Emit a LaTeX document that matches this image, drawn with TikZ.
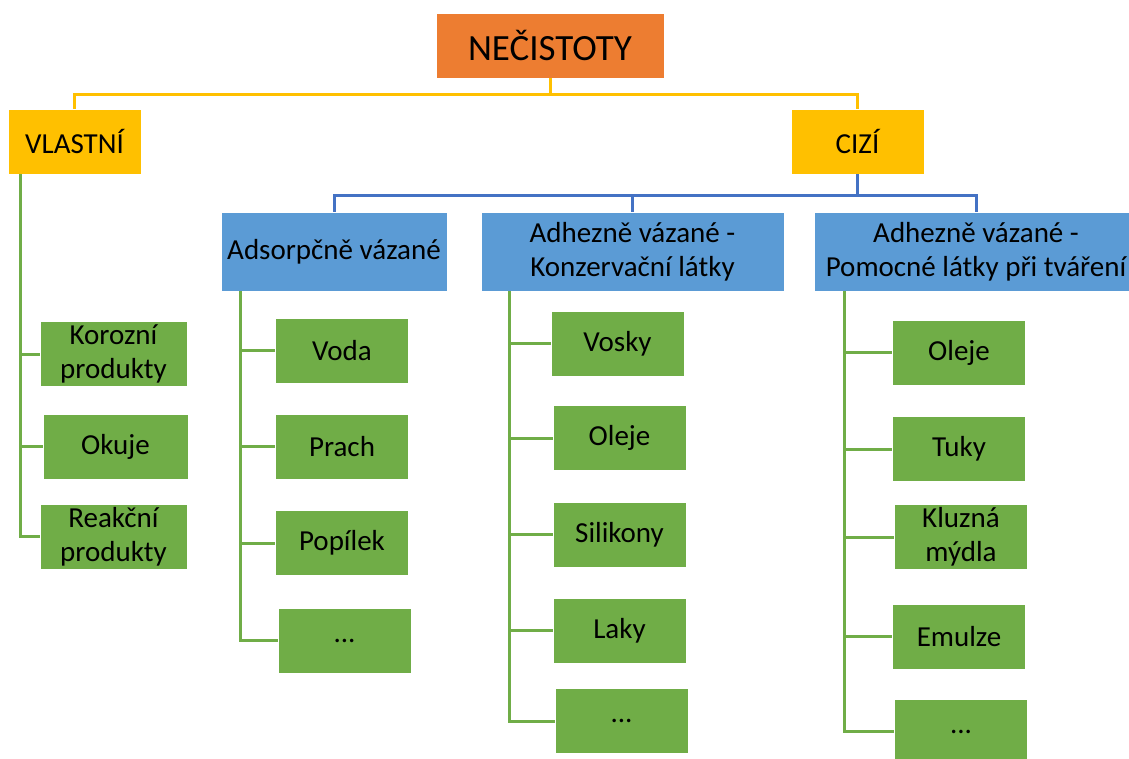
\documentclass[tikz,border=0pt]{standalone}
\usepackage{fontspec}
\setmainfont{Carlito}
\usetikzlibrary{calc}
\definecolor{necorange}{HTML}{ED7D31}
\definecolor{lvlyellow}{HTML}{FFC000}
\definecolor{grpblue}{HTML}{5B9BD5}
\definecolor{lineblue}{HTML}{4472C4}
\definecolor{itemgreen}{HTML}{70AD47}
\tikzset{
  box/.style={draw=white, line width=0.8pt, inner sep=1pt, align=center,
    minimum height=65pt, font=\fontsize{29}{34}\selectfont},
  rootbox/.style={box, fill=necorange, minimum width=228pt,
    font=\fontsize{37}{44}\selectfont},
  lvlbox/.style={box, fill=lvlyellow, minimum width=133pt},
  grpbox/.style={box, fill=grpblue, minimum height=79pt},
  itembox/.style={box, fill=itemgreen, minimum width=133pt},
  yline/.style={draw=lvlyellow, line width=3pt},
  bline/.style={draw=lineblue, line width=3pt},
  gline/.style={draw=itemgreen, line width=3pt}
}
\begin{document}
\begin{tikzpicture}[x=1pt, y=-1pt]
      \useasboundingbox (0,0) rectangle (1129,758);
      % top levels
      \node[rootbox] (nec) at (550,45.5) {NEČISTOTY};
      \node[lvlbox] (vlastni) at (74.5,141.5) {VLASTNÍ};
      \node[lvlbox] (cizi) at (857.5,141.5) {CIZÍ};
      \node[grpbox, minimum width=226pt] (ads) at (334,251.5) {Adsorpčně vázané};
      \node[grpbox, minimum width=303pt] (kons) at (632.5,251.5) {Adhezně vázané -\\Konzervační látky};
      \node[grpbox, minimum width=324pt] (pom) at (976,251.5) {Adhezně vázané -\\Pomocné látky při tváření};
      % vlastni
      \node[itembox, minimum width=147pt] (kor) at (113.5,354) {Korozní\\produkty};
      \node[itembox, minimum width=145pt] (oku) at (115.5,446.5) {Okuje};
      \node[itembox, minimum width=147pt] (rea) at (113.5,536.5) {Reakční\\produkty};
      % adsorpcne
      \node[itembox] (voda) at (342,350.5) {Voda};
      \node[itembox] (prach) at (342,446.5) {Prach};
      \node[itembox] (popilek) at (342,543) {Popílek};
      \node[itembox] (dotsA) at (344.5,640.5) {...};
      % konzervacni
      \node[itembox] (vosky) at (617.5,343.5) {Vosky};
      \node[itembox] (olejeK) at (619.5,438) {Oleje};
      \node[itembox] (silikony) at (619.5,534.5) {Silikony};
      \node[itembox] (laky) at (619.5,630.5) {Laky};
      \node[itembox] (dotsK) at (621.5,721) {...};
      % pomocne
      \node[itembox] (olejeP) at (959,352.5) {Oleje};
      \node[itembox] (tuky) at (959,449) {Tuky};
      \node[itembox] (kluzna) at (961,537) {Kluzná\\mýdla};
      \node[itembox] (emulze) at (959,636.5) {Emulze};
      \node[itembox] (dotsP) at (961,731.5) {...};
      % connectors
      \begin{scope}[yline]
        \draw (nec.south) -- ++(0,16) -| (vlastni.north);
        \draw (nec.south) -- ++(0,16) -| (cizi.north);
      \end{scope}
      \begin{scope}[bline]
        \draw (cizi.south) -- ++(0,21) -| (ads.north);
        \draw (cizi.south) -- ++(0,21) -| (kons.north);
        \draw (cizi.south) -- ++(0,21) -| (pom.north);
      \end{scope}
      \coordinate (tV) at ($(vlastni.south west)+(13,0)$);
      \coordinate (tA) at ($(ads.south west)+(20,0)$);
      \coordinate (tK) at ($(kons.south west)+(29,0)$);
      \coordinate (tP) at ($(pom.south west)+(31,0)$);
      \begin{scope}[gline]
        \draw (tV) |- (kor.west);
        \draw (tV) |- (oku.west);
        \draw (tV) |- (rea.west);
        \draw (tA) |- (voda.west);
        \draw (tA) |- (prach.west);
        \draw (tA) |- (popilek.west);
        \draw (tA) |- (dotsA.west);
        \draw (tK) |- (vosky.west);
        \draw (tK) |- (olejeK.west);
        \draw (tK) |- (silikony.west);
        \draw (tK) |- (laky.west);
        \draw (tK) |- (dotsK.west);
        \draw (tP) |- (olejeP.west);
        \draw (tP) |- (tuky.west);
        \draw (tP) |- (kluzna.west);
        \draw (tP) |- (emulze.west);
        \draw (tP) |- (dotsP.west);
      \end{scope}
    \end{tikzpicture}
\end{document}
